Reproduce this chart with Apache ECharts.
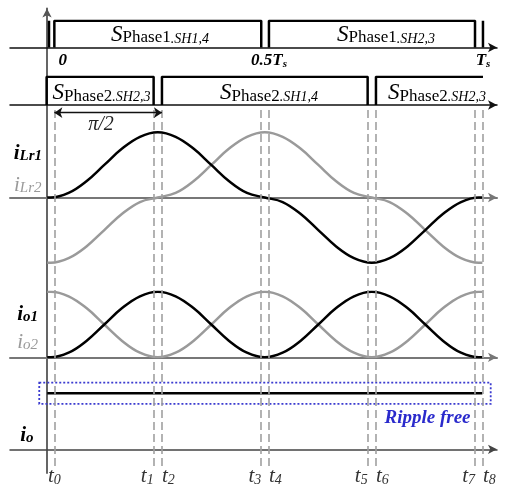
<!DOCTYPE html>
<html><head><meta charset="utf-8">
<script src="https://cdn.jsdelivr.net/npm/echarts@6/dist/echarts.min.js"></script>
<style>html,body{margin:0;padding:0;background:#fff}#c{width:505px;height:488px}</style>
</head><body><div id="c"></div>
<script>
// ---------- data (phase angle in degrees, 360 = one switching period Ts) ----------
const theta = [-3,0,15,30,45,60,75,90,105,120,135,150,165,180,195,210,225,240,255,270,285,300,315,330,345,360,363];
const iLr1  = [0,0,0.07,0.25,0.5,0.75,0.93,1,0.93,0.75,0.5,0.25,0.07,0,-0.07,-0.25,-0.5,-0.75,-0.93,-1,-0.93,-0.75,-0.5,-0.25,-0.07,0,0];
const iLr2  = [-1,-1,-0.93,-0.75,-0.5,-0.25,-0.07,0,0.07,0.25,0.5,0.75,0.93,1,0.93,0.75,0.5,0.25,0.07,0,-0.07,-0.25,-0.5,-0.75,-0.93,-1,-1];
const io1   = [0,0,0.07,0.25,0.5,0.75,0.93,1,0.93,0.75,0.5,0.25,0.07,0,0.07,0.25,0.5,0.75,0.93,1,0.93,0.75,0.5,0.25,0.07,0,0];
const io2   = [1,1,0.93,0.75,0.5,0.25,0.07,0,0.07,0.25,0.5,0.75,0.93,1,0.93,0.75,0.5,0.25,0.07,0,0.07,0.25,0.5,0.75,0.93,1,1];
const ioTotalTime = [-3, 363];
const ioTotal     = [1, 1];

const phase1Time  = [-1.5,-1.5,null,3,3,177,177,null,183.5,183.5,356.8,356.8,null,363.5,363.5];
const phase1Level = [1,0,null,0,1,1,0,null,0,1,1,0,null,0,1];
const phase2Time  = [-3.5,-3.5,86.5,86.5,null,93.5,93.5,266.5,266.5,null,273.5,273.5,363.5];
const phase2Level = [0,1,1,0,null,0,1,1,0,null,0,1,1];

const tTimes  = [3,86.5,93.5,177,183.5,266.5,273.5,356.8,363.5];
const tLabels = ['0','1','2','3','4','5','6','7','8'];
const timeTickVals = [3,183.5,363.5];
const timeTickMain = ['0','0.5T','T'];
const timeTickSub  = ['','s','s'];
const phase1Labels = [['Phase1','.SH1,4'],['Phase1','.SH2,3']];
const phase2Labels = [['Phase2','.SH2,3'],['Phase2','.SH1,4'],['Phase2','.SH2,3']];
const piSpan = [3, 93.5];
const rippleBoxX = [-9.7, 370];
const rippleBoxY = [1.19, 0.81];

// ---------- layout ----------
const SERIF = '"Liberation Serif","Times New Roman",serif';
const XMIN = -34.3, XMAX = 375.3;
const zip = (xs, ys) => xs.map((x, i) => x == null ? '-' : [x, ys[i]]);

function tk(size, style, weight, lh, color, extra) {
  return Object.assign({fontSize: size, fontStyle: style, fontWeight: weight, fontFamily: SERIF,
    lineHeight: lh, verticalAlign: 'bottom', fill: color || '#000', color: color || '#000'}, extra || {});
}
function xAx(gi, extra) {
  return Object.assign({type: 'value', gridIndex: gi, min: XMIN, max: XMAX,
    axisTick: {show: false}, axisLabel: {show: false}, splitLine: {show: false},
    axisLine: {show: true, symbol: ['none', 'arrow'], symbolSize: [7, 9], lineStyle: {color: '#111', width: 1.5}}}, extra || {});
}
function yAx(gi, min, max) {
  return {type: 'value', gridIndex: gi, min: min, max: max, show: false};
}

const grid = [
  {left: 10, right: 8, top: 20.7, height: 26.8},
  {left: 10, right: 8, top: 76.7, height: 38.2},
  {left: 10, right: 8, top: 132.3, height: 130.4},
  {left: 10, right: 8, top: 291.7, height: 65.6},
  {left: 10, right: 8, top: 382.1, height: 67.2},
  {left: 10, right: 8, top: 106, height: 360},
  {left: 47, width: 20, top: 8.5, height: 464.5}
];

const grayAxis = {show: true, symbol: ['none', 'arrow'], symbolSize: [7, 9], lineStyle: {color: '#777', width: 2}};

const xAxis = [
  xAx(0, {axisLabel: {show: true, customValues: timeTickVals, margin: 5,
    formatter: function (v) {
      const i = timeTickVals.indexOf(v);
      const cls = timeTickMain[i] === '0' ? 'z' : 'b';
      return '{' + cls + '|' + timeTickMain[i] + '}' + (timeTickSub[i] ? '{s|' + timeTickSub[i] + '}' : '');
    },
    rich: {
      b: tk(17, 'italic', 'bold', 17, '#000'),
      z: tk(17, 'italic', 'bold', 17, '#000', {padding: [0, 0, 0, 17]}),
      s: tk(11, 'italic', 'bold', 9, '#000')
    }}}),
  xAx(1),
  xAx(2, {axisLine: grayAxis}),
  xAx(3, {axisLine: grayAxis}),
  xAx(4, {axisLine: {show: true, symbol: ['none', 'arrow'], symbolSize: [7, 9], lineStyle: {color: '#444', width: 1.5}}}),
  xAx(5, {show: false}),
  {type: 'value', gridIndex: 6, min: 0, max: 1, show: false}
];
const yAxis = [
  yAx(0, 0, 1), yAx(1, -0.35, 1), yAx(2, -1, 1), yAx(3, 0, 1), yAx(4, 0, 1.2), yAx(5, 0, 1),
  {type: 'value', gridIndex: 6, min: 0, max: 1, axisTick: {show: false}, axisLabel: {show: false}, splitLine: {show: false},
    axisLine: {show: true, onZero: false, symbol: ['none', 'arrow'], symbolSize: [7, 9], lineStyle: {color: '#555', width: 1.8}}}
];

const lineBase = {type: 'line', symbol: 'none', silent: true, animation: false, connectNulls: false};

const series = [
  Object.assign({}, lineBase, {xAxisIndex: 5, yAxisIndex: 5, data: [['-', '-']], z: 1,
    markLine: {silent: true, symbol: ['none', 'none'], animation: false,
      lineStyle: {type: [8, 4], color: '#a0a0a0', width: 1.6},
      label: {show: true, position: 'start', distance: 0,
        rich: {t: tk(21, 'italic', 'normal', 21, '#333'), n: tk(14, 'italic', 'normal', 12, '#333')}},
      emphasis: {disabled: true},
      data: tTimes.map((v, i) => ({xAxis: v, label: {formatter: '{t|t}{n|' + tLabels[i] + '}',
        align: i === 0 ? 'center' : (i % 2 === 1 ? 'right' : 'left')}}))}}),
  Object.assign({}, lineBase, {xAxisIndex: 0, yAxisIndex: 0, data: zip(phase1Time, phase1Level),
    lineStyle: {color: '#000', width: 2.5}}),
  Object.assign({}, lineBase, {xAxisIndex: 1, yAxisIndex: 1, data: zip(phase2Time, phase2Level),
    lineStyle: {color: '#000', width: 2.5},
    markLine: {silent: true, animation: false, symbol: ['arrow', 'arrow'], symbolSize: 8,
      lineStyle: {type: 'solid', color: '#111', width: 1.4}, label: {show: false}, emphasis: {disabled: true},
      data: [[{coord: [piSpan[0], -0.27]}, {coord: [piSpan[1], -0.27]}]]}}),
  Object.assign({}, lineBase, {xAxisIndex: 2, yAxisIndex: 2, data: zip(theta, iLr2), smooth: 0.4,
    lineStyle: {color: '#9a9a9a', width: 2.5}}),
  Object.assign({}, lineBase, {xAxisIndex: 2, yAxisIndex: 2, data: zip(theta, iLr1), smooth: 0.4,
    lineStyle: {color: '#000', width: 2.5}}),
  Object.assign({}, lineBase, {xAxisIndex: 3, yAxisIndex: 3, data: zip(theta, io2), smooth: 0.4,
    lineStyle: {color: '#9a9a9a', width: 2.5}}),
  Object.assign({}, lineBase, {xAxisIndex: 3, yAxisIndex: 3, data: zip(theta, io1), smooth: 0.4,
    lineStyle: {color: '#000', width: 2.5}}),
  Object.assign({}, lineBase, {xAxisIndex: 4, yAxisIndex: 4, data: zip(ioTotalTime, ioTotal),
    lineStyle: {color: '#000', width: 2.5},
    markArea: {silent: true, animation: false,
      itemStyle: {color: 'rgba(0,0,0,0)', borderColor: '#3b3bd0', borderWidth: 1.8, borderType: [2, 2]},
      data: [[{coord: [rippleBoxX[0], rippleBoxY[0]]}, {coord: [rippleBoxX[1], rippleBoxY[1]]}]]}})
];

// ---------- text annotations ----------
const sRich = {S: tk(23, 'italic', 'normal', 23), P: tk(17, 'normal', 'normal', 17), Q: tk(14, 'italic', 'normal', 14)};
function sLabel(parts, x, y) {
  return {type: 'text', x: x, y: y, silent: true,
    style: {text: '{S|S}{P|' + parts[0] + '}{Q|' + parts[1] + '}', rich: sRich, align: 'center', verticalAlign: 'bottom'}};
}
function iLabel(main, sub, x, y, bold, color, subLh) {
  const w = bold ? 'bold' : 'normal';
  return {type: 'text', x: x, y: y, silent: true,
    style: {text: '{i|' + main + '}{s|' + sub + '}', align: 'right', verticalAlign: 'bottom',
      rich: {i: tk(21, 'italic', w, 21, color), s: tk(15, 'italic', w, subLh, color)}}};
}
const graphic = [
  sLabel(phase1Labels[0], 160, 46), sLabel(phase1Labels[1], 386, 46),
  sLabel(phase2Labels[0], 101.5, 104.6), sLabel(phase2Labels[1], 269, 104.6), sLabel(phase2Labels[2], 437, 104.6),
  iLabel('i', 'Lr1', 42, 164, true, '#000', 15),
  iLabel('i', 'Lr2', 41.5, 195.5, false, '#9a9a9a', 15),
  iLabel('i', 'o1', 38, 325, true, '#000', 13),
  iLabel('i', 'o2', 38, 352.5, false, '#9a9a9a', 6),
  iLabel('i', 'o', 33.5, 446, true, '#000', 12),
  {type: 'text', x: 101, y: 125, silent: true,
    style: {text: 'π/2', fontSize: 20, fontStyle: 'italic', fontFamily: SERIF, fill: '#222', align: 'center', verticalAlign: 'middle'}},
  {type: 'text', x: 427.5, y: 418.3, silent: true,
    style: {text: 'Ripple free', fontSize: 19, fontStyle: 'italic', fontWeight: 'bold', fontFamily: SERIF, fill: '#2a2acc', align: 'center', verticalAlign: 'middle'}}
];

const chart = echarts.init(document.getElementById('c'), null, {renderer: 'canvas'});
chart.setOption({animation: false, backgroundColor: '#fff', grid, xAxis, yAxis, series, graphic});
</script></body></html>
